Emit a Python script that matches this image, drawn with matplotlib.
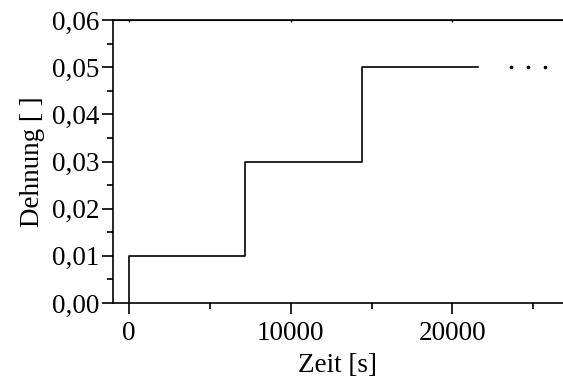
import matplotlib.pyplot as plt
from matplotlib.ticker import MultipleLocator, FuncFormatter

# Stufen: Zeit [s] und Dehnung [ ]
zeit = [0, 0, 7200, 7200, 14400, 14400, 21600]
dehnung = [0.0, 0.01, 0.01, 0.03, 0.03, 0.05, 0.05]
# Punkte für "..."
punkte_x = [23640, 24690, 25740]
punkte_y = [0.05, 0.05, 0.05]

plt.rcParams['font.family'] = ['Liberation Serif', 'DejaVu Serif']
plt.rcParams['font.size'] = 19.5

fig = plt.figure(figsize=(5.63, 3.78), dpi=100)
ax = fig.add_axes([113/563, 1 - 303/378, 1 - 113/563, (303 - 20)/378])

ax.plot(zeit, dehnung, color='black', lw=1.2)
ax.plot(punkte_x, punkte_y, 'o', color='black', ms=2.6, mew=0)

ax.set_xlim(-1000, 26850)
ax.set_ylim(0, 0.06)
ax.xaxis.set_major_locator(MultipleLocator(10000))
ax.xaxis.set_minor_locator(MultipleLocator(5000))
ax.yaxis.set_major_locator(MultipleLocator(0.01))
ax.yaxis.set_minor_locator(MultipleLocator(0.005))
ax.yaxis.set_major_formatter(FuncFormatter(lambda v, p: f'{v:.2f}'.replace('.', ',')))

ax.spines['right'].set_visible(False)
for s in ['left', 'bottom', 'top']:
    ax.spines[s].set_linewidth(1.2)
ax.tick_params(which='major', length=8, width=1.2, direction='out', pad=2)
ax.tick_params(which='minor', length=4, width=1.2, direction='out')
ax.tick_params(axis='x', which='major', pad=5)
# kleine Striche oben
ax.secondary_xaxis('top').tick_params(which='both', length=1.5, width=1.0, direction='in', labeltop=False)

ax.set_xlabel('Zeit [s]', labelpad=5)
ax.set_ylabel('Dehnung [ ]', labelpad=5)

fig.savefig('out.png', dpi=100)
